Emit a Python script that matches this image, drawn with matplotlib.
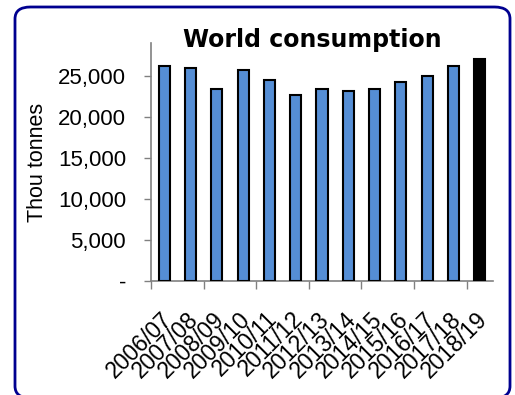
import matplotlib
matplotlib.use("Agg")
import matplotlib.pyplot as plt
from matplotlib.patches import FancyBboxPatch
from matplotlib.ticker import FuncFormatter, FixedLocator
from matplotlib.transforms import ScaledTranslation
import numpy as np

seasons = ["2006/07", "2007/08", "2008/09", "2009/10", "2010/11", "2011/12",
           "2012/13", "2013/14", "2014/15", "2015/16", "2016/17", "2017/18", "2018/19"]
consumption = [26250, 26000, 23450, 25750, 24480, 22720, 23450, 23200, 23450,
               24230, 25000, 26250, 27040]
bar_colors = ["#558ED5"] * 12 + ["#000000"]
y_ticks = [0, 5000, 10000, 15000, 20000, 25000]

plt.rcParams['font.family'] = ['Liberation Sans', 'DejaVu Sans']

fig = plt.figure(figsize=(5.15, 3.95), dpi=100)
frame = FancyBboxPatch((15/515, 1 - 398/395), (510-15)/515, (398-7)/395,
                       boxstyle="round,pad=0,rounding_size=0.03",
                       transform=fig.transFigure, facecolor="none",
                       edgecolor="#000090", linewidth=2, zorder=-1)
fig.patches.append(frame)

ax = fig.add_axes([151/515, 1 - 281/395, (493-151)/515, (281-43)/395])
ax.set_facecolor("none")
x = np.arange(len(seasons))
ax.bar(x, consumption, width=0.42, color=bar_colors, edgecolor="black", linewidth=1.5, zorder=3)

ax.set_xlim(-0.5, len(seasons) - 0.5)
ax.set_ylim(0, 29000)
ax.set_yticks(y_ticks)
ax.yaxis.set_major_formatter(FuncFormatter(lambda v, p: "-" if v == 0 else f"{int(v):,}"))
ax.tick_params(axis='y', labelsize=16, length=5, width=1, color="#808080", pad=13)

ax.set_xticks(x)
ax.set_xticklabels(seasons, rotation=45, ha="right", rotation_mode="anchor", fontsize=16.5)
ax.tick_params(axis='x', which='major', length=0, pad=19)
shift = ScaledTranslation(-4/100, 0, fig.dpi_scale_trans)
for lbl in ax.get_xticklabels():
    lbl.set_transform(lbl.get_transform() + shift)
ax.xaxis.set_minor_locator(FixedLocator(np.arange(-0.5, len(seasons), 2)))
ax.tick_params(axis='x', which='minor', length=6, width=1, color="#808080")

for s in ["top", "right"]:
    ax.spines[s].set_visible(False)
for s in ["left", "bottom"]:
    ax.spines[s].set_color("#808080")
    ax.spines[s].set_linewidth(1.2)

ax.set_ylabel("Thou tonnes", fontsize=15.5, labelpad=7)
fig.text(312.5/515, 1 - 47/395, "World consumption", ha="center", va="baseline",
         fontsize=17, fontweight="heavy", family="DejaVu Sans")

fig.savefig("out.png", dpi=100)
